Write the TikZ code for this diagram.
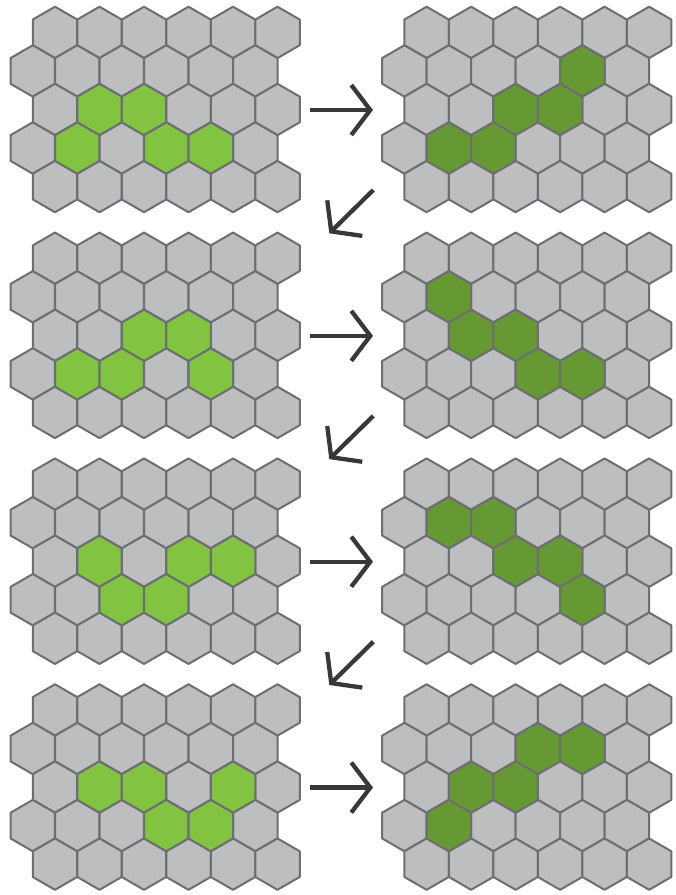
\documentclass[tikz,border=0pt]{standalone}
\usetikzlibrary{arrows.meta}
\definecolor{hexgray}{HTML}{BCBEC0}
\definecolor{hexedge}{HTML}{6D6E71}
\definecolor{lightgreen}{HTML}{82C341}
\definecolor{darkgreen}{HTML}{669933}
\definecolor{arrowcol}{HTML}{38383A}
\tikzset{
  hexcell/.style={draw=hexedge, line width=2pt, line join=round},
  steparrow/.style={draw=arrowcol, line width=4.3pt,
    -{Straight Barb[length=19pt, width=50pt, sharp]}},
}
\newcommand\HexCell[3]{%
  \path[hexcell, fill=#3] (#1,#2) +(90:25.69) -- +(150:25.69) -- +(210:25.69)
    -- +(270:25.69) -- +(330:25.69) -- +(30:25.69) -- cycle;}
\newcommand\HexGrid[4]{%
  \pgfmathsetmacro\gxo{55+371.6*#1}%
  \pgfmathsetmacro\gyo{32.4+225.85*#2}%
  \foreach \r in {0,...,4}{%
    \foreach \c in {0,...,5}{%
      \pgfmathsetmacro\hx{\gxo+44.5*\c-22.25*mod(\r,2)}%
      \pgfmathsetmacro\hy{\gyo+38.54*\r}%
      \HexCell{\hx}{\hy}{hexgray}%
    }%
  }%
  \foreach \r/\c in {#3}{%
    \pgfmathsetmacro\hx{\gxo+44.5*\c-22.25*mod(\r,2)}%
    \pgfmathsetmacro\hy{\gyo+38.54*\r}%
    \HexCell{\hx}{\hy}{#4}%
  }%
}
\begin{document}
\begin{tikzpicture}[x=1pt, y=-1pt]
\useasboundingbox (0,0) rectangle (676,895);
% left column (before), right column (after)
\HexGrid{0}{0}{2/1,2/2,3/1,3/3,3/4}{lightgreen}
\HexGrid{1}{0}{1/4,2/2,2/3,3/1,3/2}{darkgreen}
\HexGrid{0}{1}{2/2,2/3,3/1,3/2,3/4}{lightgreen}
\HexGrid{1}{1}{1/1,2/1,2/2,3/3,3/4}{darkgreen}
\HexGrid{0}{2}{2/1,2/3,2/4,3/2,3/3}{lightgreen}
\HexGrid{1}{2}{1/1,1/2,2/2,2/3,3/4}{darkgreen}
\HexGrid{0}{3}{2/1,2/2,2/4,3/3,3/4}{lightgreen}
\HexGrid{1}{3}{1/3,1/4,2/1,2/2,3/1}{darkgreen}
% arrows
\foreach \k in {0,1,2,3}{
  \coordinate (ra\k) at (310, 110+225.85*\k);
  \coordinate (rb\k) at (373, 110+225.85*\k);
  \draw[steparrow] (ra\k) -- (rb\k);
}
\foreach \k in {0,1,2}{
  \coordinate (da\k) at (373.3, 190+225.85*\k);
  \coordinate (db\k) at (329.3, 233.3+225.85*\k);
  \draw[steparrow] (da\k) -- (db\k);
}
\end{tikzpicture}
\end{document}
